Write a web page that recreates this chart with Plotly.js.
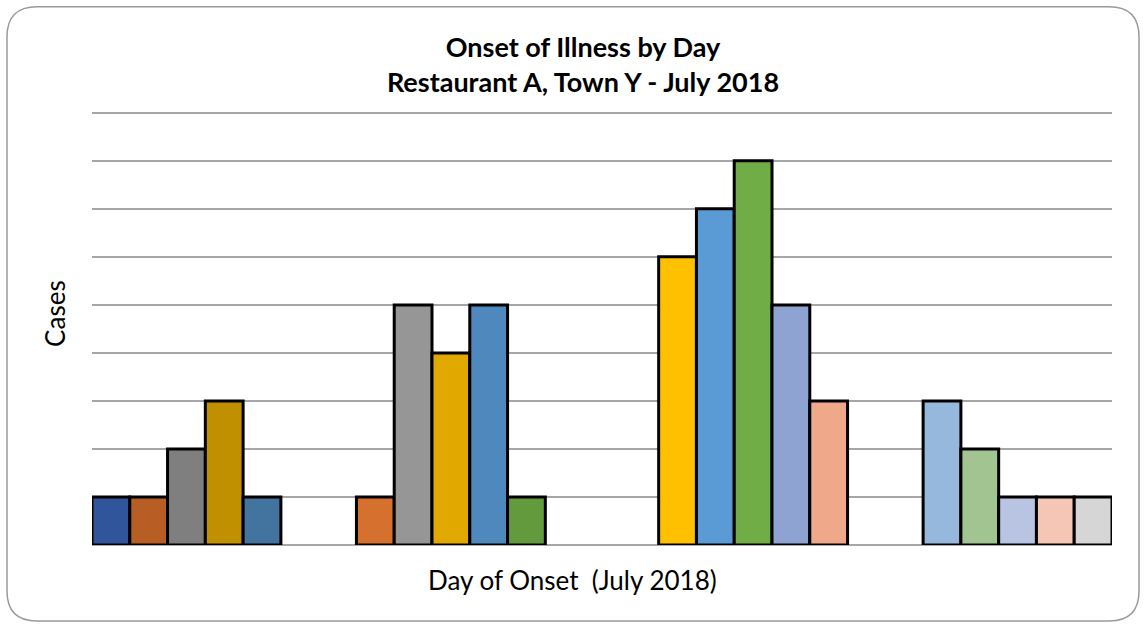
<!DOCTYPE html>
<html>
<head>
<meta charset="utf-8">
<script src="https://cdn.plot.ly/plotly-3.0.1.min.js"></script>
<style>
html,body{margin:0;padding:0;background:#fff;}
#chart{width:1146px;height:629px;}
</style>
</head>
<body>
<div id="chart"></div>
<script>
// Day slots along the x axis (empty slots are days with no cases)
const slots = ['1','2','3','4','5','6','7','8','9','10','11','12','13','14','15','16','17','18','19','20','21','22','23','24','25','26','27'];
const cases = [1,1,2,3,1,null,null,1,5,4,5,1,null,null,null,6,7,8,5,3,null,null,3,2,1,1,1];
const barColors = ['#31559A','#B85D23','#7F7F7F','#C09000','#43739F','#fff','#fff',
  '#D6702E','#969696','#E1A800','#4F88BC','#649A3E','#fff','#fff','#fff',
  '#FFC000','#5B9BD5','#70AD47','#8FA3D3','#F0A88A','#fff','#fff',
  '#97B8DD','#A2C490','#B9C3E2','#F5C6B5','#D6D6D6'];
const titleText = 'Onset of Illness by Day<br>Restaurant A, Town Y - July 2018';
const xTitle = 'Day of Onset  (July 2018)';
const yTitle = 'Cases';
const yMax = 9.1;

const L=92, R=1112, B=545, unit=48;
const T = B - yMax*unit;
function px(x){return (x-L)/(R-L);}
function py(y){return (B-y)/(B-T);}
const x0=px(7),x1=px(1139),y0=py(7),y1=py(621),rx=30/(R-L),ry=30/(B-T);
const border = `M ${x0+rx} ${y0} L ${x1-rx} ${y0} Q ${x1} ${y0} ${x1} ${y0-ry} L ${x1} ${y1+ry} Q ${x1} ${y1} ${x1-rx} ${y1} L ${x0+rx} ${y1} Q ${x0} ${y1} ${x0} ${y1+ry} L ${x0} ${y0-ry} Q ${x0} ${y0} ${x0+rx} ${y0} Z`;

const font = 'Lato, "Open Sans", sans-serif';
Plotly.newPlot('chart', [{
  type:'bar', x:slots, y:cases,
  marker:{color:barColors, line:{color:'#000', width:3}},
  hoverinfo:'y'
}], {
  width:1146, height:629,
  margin:{l:L, r:1146-R, t:T, b:629-B},
  paper_bgcolor:'#fff', plot_bgcolor:'#fff',
  bargap:0, showlegend:false,
  font:{family:font, color:'#000'},
  title:{text:titleText, font:{family:font, size:27, weight:'bold', color:'#000'}, x:583/1146, xanchor:'center', xref:'container', y:1-57/629, yanchor:'middle'},
  xaxis:{type:'category', range:[-0.5,26.5], showticklabels:false, ticks:'', showgrid:false, zeroline:false, showline:false, fixedrange:true},
  yaxis:{range:[0,yMax], dtick:1, showticklabels:false, ticks:'', showgrid:true, gridcolor:'#A6A6A6', gridwidth:1.5, zeroline:true, zerolinecolor:'#A6A6A6', zerolinewidth:1.5, showline:false},
  annotations:[
    {text:xTitle, xref:'paper', yref:'paper', x:px(572), y:py(580), xanchor:'center', yanchor:'middle', showarrow:false, font:{family:font, size:26, color:'#000'}},
    {text:yTitle, xref:'paper', yref:'paper', x:px(55), y:py(314), xanchor:'center', yanchor:'middle', textangle:-90, showarrow:false, font:{family:font, size:26, color:'#000'}}
  ],
  shapes:[{type:'path', xref:'paper', yref:'paper', path:border, line:{color:'#9A9A9A', width:1.5}, fillcolor:'rgba(0,0,0,0)', layer:'below'}]
}, {displayModeBar:false, staticPlot:true});
</script>
</body>
</html>
